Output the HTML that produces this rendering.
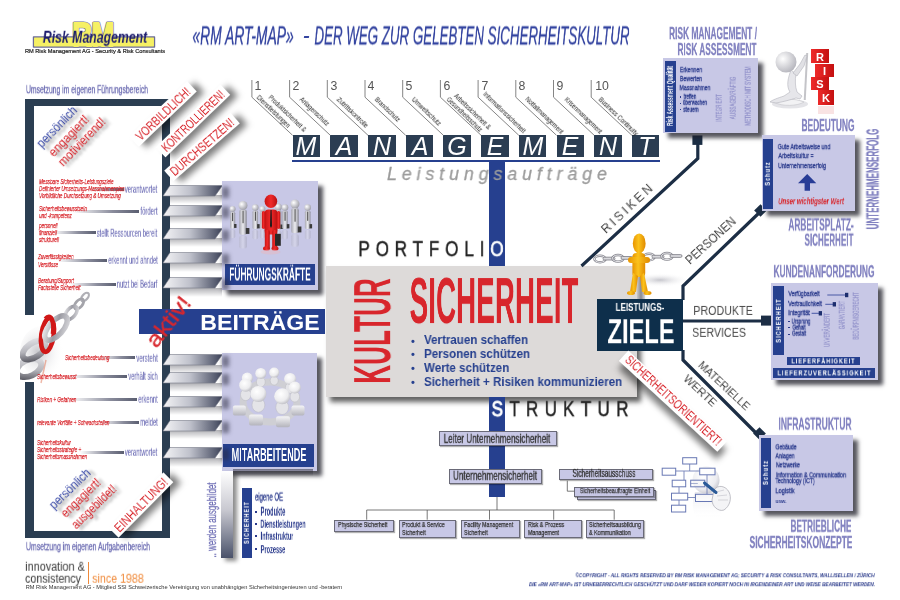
<!DOCTYPE html><html><head><meta charset="utf-8"><style>
*{margin:0;padding:0}
html,body{width:900px;height:600px;overflow:hidden;background:#fff}
body{position:relative;font-family:"Liberation Sans",sans-serif}
body>div,body>svg{position:absolute}
.t{width:0;height:0}
.t>span{position:absolute;left:0;top:0;white-space:nowrap;line-height:1;display:block;will-change:transform}
.tag{background:#fff;box-shadow:5px 6px 6px rgba(0,0,0,0.5)}
.red{font-size:7.5px;font-style:italic;color:#d8262c;transform:scaleX(0.61);transform-origin:0 0;-webkit-text-stroke:0.25px #d8262c}
.oc{font-size:7px;color:#333;transform:scaleX(0.76);transform-origin:0 0;-webkit-text-stroke:0.25px #333}
.shd{width:52px;height:9px;background:linear-gradient(180deg,rgba(80,80,90,0.45),rgba(255,255,255,0))}
</style></head><body>
<svg style="left:0;top:0" width="200" height="60">
<g stroke="#6c6c96" stroke-width="3.2" fill="#6c6c96" stroke-linejoin="round">
<rect x="33.5" y="37" width="121" height="10" stroke-width="1.4"/>
<text x="72.2" y="46.3" font-family="Liberation Sans" font-weight="bold" font-size="33" textLength="42" lengthAdjust="spacingAndGlyphs">RM</text></g>
<g stroke="#f6f064" stroke-width="1.8" fill="#f6f064" stroke-linejoin="round">
<rect x="34.2" y="37.7" width="119.6" height="8.6" stroke-width="0"/>
<text x="72.2" y="46.3" font-family="Liberation Sans" font-weight="bold" font-size="33" textLength="42" lengthAdjust="spacingAndGlyphs">RM</text></g>
<rect x="34.2" y="37.7" width="119.6" height="8.6" fill="#f6f064"/>
</svg>
<div class="t" style="left:95.2px;top:37.7px"><span style="font-size:16.57px;color:#1d1d6e;font-weight:bold;font-style:italic;letter-spacing:0px;transform:translate(-50%,-50%) scaleX(0.741);">Risk Management</span></div>
<div class="t" style="left:94.7px;top:52.2px"><span style="font-size:5.67px;color:#222;font-weight:normal;font-style:normal;letter-spacing:0px;transform:translate(-50%,-50%);-webkit-text-stroke:0.2px #222">RM Risk Management AG - Security &amp; Risk Consultants</span></div>
<div class="t" style="left:242.7px;top:36.0px"><span style="font-size:25.15px;color:#3444a0;font-weight:normal;font-style:italic;letter-spacing:0px;transform:translate(-50%,-50%) scaleX(0.552);-webkit-text-stroke:0.35px #3444a0">«RM ART-MAP»</span></div>
<div style="left:303.5px;top:36.2px;width:5px;height:1.8px;background:#3444a0;transform:skewX(-10deg)"></div>
<div class="t" style="left:471.6px;top:36.0px"><span style="font-size:25.15px;color:#3444a0;font-weight:normal;font-style:italic;letter-spacing:0px;transform:translate(-50%,-50%) scaleX(0.530);-webkit-text-stroke:0.35px #3444a0">DER WEG ZUR GELEBTEN SICHERHEITSKULTUR</span></div>
<div class="t" style="left:87.0px;top:90.0px"><span style="font-size:11.50px;color:#6c6cb2;font-weight:normal;font-style:normal;letter-spacing:0px;transform:translate(-50%,-50%) scaleX(0.589);-webkit-text-stroke:0.35px #6c6cb2">Umsetzung im eigenen Führungsbereich</span></div>
<div style="left:25px;top:99px;width:145px;height:7px;background:#2b3e52;"></div>
<div style="left:25px;top:99px;width:9px;height:216px;background:#2b3e52;"></div>
<div style="left:25px;top:382px;width:9px;height:156px;background:#2b3e52;"></div>
<div style="left:162px;top:99px;width:8px;height:439px;background:#2b3e52;"></div>
<div style="left:25px;top:531px;width:145px;height:7px;background:#2b3e52;"></div>
<div class="t" style="left:88.0px;top:547.0px"><span style="font-size:11.50px;color:#6c6cb2;font-weight:normal;font-style:normal;letter-spacing:0px;transform:translate(-50%,-50%) scaleX(0.599);-webkit-text-stroke:0.35px #6c6cb2">Umsetzung im eigenen Aufgabenbereich</span></div>
<svg style="left:20px;top:290px" width="80" height="100" viewBox="0 0 80 100">
<defs><linearGradient id="cg" x1="0" y1="1" x2="1" y2="0"><stop offset="0" stop-color="#55555e"/><stop offset="0.45" stop-color="#b4b4ba"/><stop offset="1" stop-color="#e4e4e8"/></linearGradient>
<linearGradient id="cg2" x1="0" y1="0" x2="1" y2="1"><stop offset="0" stop-color="#f0f0f2"/><stop offset="0.5" stop-color="#9a9aa2"/><stop offset="1" stop-color="#d8d8dc"/></linearGradient>
<radialGradient id="cs" cx="0.4" cy="0.5" r="0.6"><stop offset="0" stop-color="#b0b0b6" stop-opacity="0.7"/><stop offset="1" stop-color="#fff" stop-opacity="0"/></radialGradient></defs>
<ellipse cx="22" cy="62" rx="22" ry="26" fill="url(#cs)"/>
<g fill="none">
<ellipse cx="65" cy="7" rx="5" ry="2.8" transform="rotate(-50 65 7)" stroke="#b0b0b6" stroke-width="2.2"/>
<ellipse cx="59" cy="14" rx="6" ry="3.4" transform="rotate(-50 59 14)" stroke="#a4a4aa" stroke-width="2.8"/>
<ellipse cx="51" cy="23" rx="8" ry="4.5" transform="rotate(-50 51 23)" stroke="url(#cg2)" stroke-width="3.6"/>
<ellipse cx="9" cy="78" rx="13" ry="8" transform="rotate(-25 9 78)" stroke="url(#cg)" stroke-width="6"/>
<ellipse cx="14" cy="60" rx="13" ry="7" transform="rotate(-35 14 60)" stroke="url(#cg)" stroke-width="6"/>
</g>
<ellipse cx="27.5" cy="45" rx="6.2" ry="17" transform="rotate(8 27.5 45)" fill="none" stroke="#d01818" stroke-width="4.6"/>
<ellipse cx="36" cy="38" rx="15" ry="7" transform="rotate(-48 36 38)" fill="none" stroke="url(#cg2)" stroke-width="5.5"/>
<path d="M25.5 29 A6.2 17 8 0 1 33 44" fill="none" stroke="#d01818" stroke-width="4.6"/>
<path d="M26 70 L21 93" stroke="#e07050" stroke-width="1.4" opacity="0.5"/>
</svg>
<div class="t" style="left:57.0px;top:127.0px"><span style="font-size:12.00px;color:#3a4aa8;font-weight:normal;font-style:normal;letter-spacing:0px;transform:translate(-50%,-50%) rotate(-46deg) scaleX(0.950);text-shadow:3px 4px 3px rgba(0,0,0,0.45)">persönlich</span></div>
<div class="t" style="left:68.5px;top:135.5px"><span style="font-size:12.00px;color:#d8262c;font-weight:normal;font-style:normal;letter-spacing:0px;transform:translate(-50%,-50%) rotate(-46deg) scaleX(0.974);text-shadow:3px 4px 3px rgba(0,0,0,0.45)">engagiert!</span></div>
<div class="t" style="left:82.0px;top:141.5px"><span style="font-size:12.00px;color:#d8262c;font-weight:normal;font-style:normal;letter-spacing:0px;transform:translate(-50%,-50%) rotate(-46deg) scaleX(0.949);text-shadow:3px 4px 3px rgba(0,0,0,0.45)">motivierend!</span></div>
<div class="t" style="left:70.0px;top:488.7px"><span style="font-size:12.00px;color:#3a4aa8;font-weight:normal;font-style:normal;letter-spacing:0px;transform:translate(-50%,-50%) rotate(-44deg) scaleX(0.950);text-shadow:3px 4px 3px rgba(0,0,0,0.45)">persönlich</span></div>
<div class="t" style="left:80.5px;top:497.5px"><span style="font-size:12.00px;color:#d8262c;font-weight:normal;font-style:normal;letter-spacing:0px;transform:translate(-50%,-50%) rotate(-44deg) scaleX(0.936);text-shadow:3px 4px 3px rgba(0,0,0,0.45)">engagiert!</span></div>
<div class="t" style="left:94.0px;top:507.0px"><span style="font-size:12.00px;color:#d8262c;font-weight:normal;font-style:normal;letter-spacing:0px;transform:translate(-50%,-50%) rotate(-44deg) scaleX(0.880);text-shadow:3px 4px 3px rgba(0,0,0,0.45)">ausgebildet!</span></div>
<div class="t" style="left:162.7px;top:113.8px"><span class="tag" style="width:80px;height:14px;transform:translate(-50%,-50%) rotate(-43.7deg)"></span></div>
<div class="t" style="left:162.7px;top:113.8px"><span style="font-size:13.20px;color:#d8262c;font-weight:normal;font-style:normal;letter-spacing:0px;transform:translate(-50%,-50%) rotate(-43.7deg) scaleX(0.764);">VORBILDLICH!</span></div>
<div class="t" style="left:192.5px;top:120.5px"><span class="tag" style="width:90px;height:14px;transform:translate(-50%,-50%) rotate(-44deg)"></span></div>
<div class="t" style="left:192.5px;top:120.5px"><span style="font-size:13.20px;color:#d8262c;font-weight:normal;font-style:normal;letter-spacing:0px;transform:translate(-50%,-50%) rotate(-44deg) scaleX(0.712);">KONTROLLIEREN!</span></div>
<div class="t" style="left:201.5px;top:147px"><span class="tag" style="width:88px;height:14px;transform:translate(-50%,-50%) rotate(-41deg)"></span></div>
<div class="t" style="left:201.5px;top:147.0px"><span style="font-size:13.20px;color:#d8262c;font-weight:normal;font-style:normal;letter-spacing:0px;transform:translate(-50%,-50%) rotate(-41deg) scaleX(0.774);">DURCHSETZEN!</span></div>
<div class="t" style="left:140.9px;top:505.3px"><span class="tag" style="width:78px;height:14px;transform:translate(-50%,-50%) rotate(-45.4deg)"></span></div>
<div class="t" style="left:140.9px;top:505.3px"><span style="font-size:13.20px;color:#d8262c;font-weight:normal;font-style:normal;letter-spacing:0px;transform:translate(-50%,-50%) rotate(-45.4deg) scaleX(0.797);">EINHALTUNG!</span></div>
<div style="left:89px;top:187.8px;width:35px;height:3.2px;background:linear-gradient(90deg,rgba(255,255,255,0),#8a8c9c 60%,#5a5e70);"></div>
<div class="t" style="left:39px;top:177.7px"><span class="red">Messbare Sicherheits-Leistungsziele</span></div>
<div class="t" style="left:39px;top:184.7px"><span class="red">Definierter Umsetzungs-Massnahmenplan</span></div>
<div class="t" style="left:39px;top:191.7px"><span class="red">Vorbildliche Durchsetzung &amp; Umsetzung</span></div>
<div class="t" style="left:141.2px;top:189.3px"><span style="font-size:10.50px;color:#6e6eb6;font-weight:normal;font-style:normal;letter-spacing:0px;transform:translate(-50%,-50%) scaleX(0.562);-webkit-text-stroke:0.15px #6e6eb6">verantwortet</span></div>
<div style="left:73px;top:209.5px;width:66.4px;height:3.2px;background:linear-gradient(90deg,rgba(255,255,255,0),#8a8c9c 60%,#5a5e70);"></div>
<div class="t" style="left:39px;top:204.7px"><span class="red">Sicherheitsbewusstsein</span></div>
<div class="t" style="left:39px;top:212.4px"><span class="red">und -kompetenz</span></div>
<div class="t" style="left:148.9px;top:211.0px"><span style="font-size:10.50px;color:#6e6eb6;font-weight:normal;font-style:normal;letter-spacing:0px;transform:translate(-50%,-50%) scaleX(0.564);-webkit-text-stroke:0.15px #6e6eb6">fördert</span></div>
<div style="left:53px;top:231.0px;width:43px;height:3.2px;background:linear-gradient(90deg,rgba(255,255,255,0),#8a8c9c 60%,#5a5e70);"></div>
<div class="t" style="left:39px;top:222.2px"><span class="red">personell</span></div>
<div class="t" style="left:39px;top:229.0px"><span class="red">finanziell</span></div>
<div class="t" style="left:39px;top:235.8px"><span class="red">strukturell</span></div>
<div class="t" style="left:127.2px;top:232.5px"><span style="font-size:10.50px;color:#6e6eb6;font-weight:normal;font-style:normal;letter-spacing:0px;transform:translate(-50%,-50%) scaleX(0.551);-webkit-text-stroke:0.15px #6e6eb6">stellt Ressourcen bereit</span></div>
<div style="left:58px;top:258.5px;width:49px;height:3.2px;background:linear-gradient(90deg,rgba(255,255,255,0),#8a8c9c 60%,#5a5e70);"></div>
<div class="t" style="left:38px;top:253.4px"><span class="red">Zuverlässigkeiten</span></div>
<div class="t" style="left:38px;top:261.1px"><span class="red">Verstösse</span></div>
<div class="t" style="left:132.8px;top:260.0px"><span style="font-size:10.50px;color:#6e6eb6;font-weight:normal;font-style:normal;letter-spacing:0px;transform:translate(-50%,-50%) scaleX(0.547);-webkit-text-stroke:0.15px #6e6eb6">erkennt und ahndet</span></div>
<div style="left:70px;top:282.5px;width:46px;height:3.2px;background:linear-gradient(90deg,rgba(255,255,255,0),#8a8c9c 60%,#5a5e70);"></div>
<div class="t" style="left:38px;top:277.2px"><span class="red">Beratung/Support</span></div>
<div class="t" style="left:38px;top:284.0px"><span class="red">Fachstelle Sicherheit</span></div>
<div class="t" style="left:137.2px;top:284.0px"><span style="font-size:10.50px;color:#6e6eb6;font-weight:normal;font-style:normal;letter-spacing:0px;transform:translate(-50%,-50%) scaleX(0.551);-webkit-text-stroke:0.15px #6e6eb6">nutzt bei Bedarf</span></div>
<div style="left:100px;top:356.1px;width:35px;height:3.2px;background:linear-gradient(90deg,rgba(255,255,255,0),#8a8c9c 60%,#5a5e70);"></div>
<div class="t" style="left:65px;top:354.3px"><span class="red">Sicherheitsbedeutung</span></div>
<div class="t" style="left:146.8px;top:357.6px"><span style="font-size:10.50px;color:#6e6eb6;font-weight:normal;font-style:normal;letter-spacing:0px;transform:translate(-50%,-50%) scaleX(0.576);-webkit-text-stroke:0.15px #6e6eb6">versteht</span></div>
<div style="left:70px;top:374.9px;width:57px;height:3.2px;background:linear-gradient(90deg,rgba(255,255,255,0),#8a8c9c 60%,#5a5e70);"></div>
<div class="t" style="left:37px;top:373.1px"><span class="red">Sicherheitsbewusst</span></div>
<div class="t" style="left:142.8px;top:376.4px"><span style="font-size:10.50px;color:#6e6eb6;font-weight:normal;font-style:normal;letter-spacing:0px;transform:translate(-50%,-50%) scaleX(0.555);-webkit-text-stroke:0.15px #6e6eb6">verhält sich</span></div>
<div style="left:70px;top:397.5px;width:67px;height:3.2px;background:linear-gradient(90deg,rgba(255,255,255,0),#8a8c9c 60%,#5a5e70);"></div>
<div class="t" style="left:37px;top:395.7px"><span class="red">Risiken + Gefahren</span></div>
<div class="t" style="left:147.8px;top:399.0px"><span style="font-size:10.50px;color:#6e6eb6;font-weight:normal;font-style:normal;letter-spacing:0px;transform:translate(-50%,-50%) scaleX(0.557);-webkit-text-stroke:0.15px #6e6eb6">erkennt</span></div>
<div style="left:100px;top:420.9px;width:39px;height:3.2px;background:linear-gradient(90deg,rgba(255,255,255,0),#8a8c9c 60%,#5a5e70);"></div>
<div class="t" style="left:37px;top:419.1px"><span class="red">relevante Vorfälle + Schwachstellen</span></div>
<div class="t" style="left:148.8px;top:422.4px"><span style="font-size:10.50px;color:#6e6eb6;font-weight:normal;font-style:normal;letter-spacing:0px;transform:translate(-50%,-50%) scaleX(0.556);-webkit-text-stroke:0.15px #6e6eb6">meldet</span></div>
<div style="left:80px;top:450.5px;width:44px;height:3.2px;background:linear-gradient(90deg,rgba(255,255,255,0),#8a8c9c 60%,#5a5e70);"></div>
<div class="t" style="left:37px;top:438.7px"><span class="red">Sicherheitskultur</span></div>
<div class="t" style="left:37px;top:445.7px"><span class="red">Sicherheitsstrategie +</span></div>
<div class="t" style="left:37px;top:452.7px"><span class="red">Sicherheitsmassnahmen</span></div>
<div class="t" style="left:141.2px;top:452.0px"><span style="font-size:10.50px;color:#6e6eb6;font-weight:normal;font-style:normal;letter-spacing:0px;transform:translate(-50%,-50%) scaleX(0.562);-webkit-text-stroke:0.15px #6e6eb6">verantwortet</span></div>
<div class="shd" style="left:170px;top:195.0px"></div>
<svg style="left:162px;top:184.5px" width="62" height="12" viewBox="0 0 62 12"><defs><linearGradient id="sg184" x1="0" x2="1"><stop offset="0" stop-color="#f4f4f6"/><stop offset="0.45" stop-color="#c0c2cc"/><stop offset="1" stop-color="#3c4258"/></linearGradient></defs><polygon points="8,0.5 60.5,0.5 53,11 1,11" fill="url(#sg184)" stroke="#777a88" stroke-width="0.6"/></svg>
<div class="shd" style="left:170px;top:215.3px"></div>
<svg style="left:162px;top:204.8px" width="62" height="12" viewBox="0 0 62 12"><defs><linearGradient id="sg204" x1="0" x2="1"><stop offset="0" stop-color="#f4f4f6"/><stop offset="0.45" stop-color="#c0c2cc"/><stop offset="1" stop-color="#3c4258"/></linearGradient></defs><polygon points="8,0.5 60.5,0.5 53,11 1,11" fill="url(#sg204)" stroke="#777a88" stroke-width="0.6"/></svg>
<div class="shd" style="left:170px;top:238.0px"></div>
<svg style="left:162px;top:227.5px" width="62" height="12" viewBox="0 0 62 12"><defs><linearGradient id="sg227" x1="0" x2="1"><stop offset="0" stop-color="#f4f4f6"/><stop offset="0.45" stop-color="#c0c2cc"/><stop offset="1" stop-color="#3c4258"/></linearGradient></defs><polygon points="8,0.5 60.5,0.5 53,11 1,11" fill="url(#sg227)" stroke="#777a88" stroke-width="0.6"/></svg>
<div class="shd" style="left:170px;top:262.5px"></div>
<svg style="left:162px;top:252px" width="62" height="12" viewBox="0 0 62 12"><defs><linearGradient id="sg252" x1="0" x2="1"><stop offset="0" stop-color="#f4f4f6"/><stop offset="0.45" stop-color="#c0c2cc"/><stop offset="1" stop-color="#3c4258"/></linearGradient></defs><polygon points="8,0.5 60.5,0.5 53,11 1,11" fill="url(#sg252)" stroke="#777a88" stroke-width="0.6"/></svg>
<div class="shd" style="left:170px;top:287.5px"></div>
<svg style="left:162px;top:277px" width="62" height="12" viewBox="0 0 62 12"><defs><linearGradient id="sg277" x1="0" x2="1"><stop offset="0" stop-color="#f4f4f6"/><stop offset="0.45" stop-color="#c0c2cc"/><stop offset="1" stop-color="#3c4258"/></linearGradient></defs><polygon points="8,0.5 60.5,0.5 53,11 1,11" fill="url(#sg277)" stroke="#777a88" stroke-width="0.6"/></svg>
<div class="shd" style="left:170px;top:364.5px"></div>
<svg style="left:162px;top:354px" width="62" height="12" viewBox="0 0 62 12"><defs><linearGradient id="sg354" x1="0" x2="1"><stop offset="0" stop-color="#f4f4f6"/><stop offset="0.45" stop-color="#c0c2cc"/><stop offset="1" stop-color="#3c4258"/></linearGradient></defs><polygon points="8,0.5 60.5,0.5 53,11 1,11" fill="url(#sg354)" stroke="#777a88" stroke-width="0.6"/></svg>
<div class="shd" style="left:170px;top:382.5px"></div>
<svg style="left:162px;top:372px" width="62" height="12" viewBox="0 0 62 12"><defs><linearGradient id="sg372" x1="0" x2="1"><stop offset="0" stop-color="#f4f4f6"/><stop offset="0.45" stop-color="#c0c2cc"/><stop offset="1" stop-color="#3c4258"/></linearGradient></defs><polygon points="8,0.5 60.5,0.5 53,11 1,11" fill="url(#sg372)" stroke="#777a88" stroke-width="0.6"/></svg>
<div class="shd" style="left:170px;top:406.0px"></div>
<svg style="left:162px;top:395.5px" width="62" height="12" viewBox="0 0 62 12"><defs><linearGradient id="sg395" x1="0" x2="1"><stop offset="0" stop-color="#f4f4f6"/><stop offset="0.45" stop-color="#c0c2cc"/><stop offset="1" stop-color="#3c4258"/></linearGradient></defs><polygon points="8,0.5 60.5,0.5 53,11 1,11" fill="url(#sg395)" stroke="#777a88" stroke-width="0.6"/></svg>
<div class="shd" style="left:170px;top:430.0px"></div>
<svg style="left:162px;top:419.5px" width="62" height="12" viewBox="0 0 62 12"><defs><linearGradient id="sg419" x1="0" x2="1"><stop offset="0" stop-color="#f4f4f6"/><stop offset="0.45" stop-color="#c0c2cc"/><stop offset="1" stop-color="#3c4258"/></linearGradient></defs><polygon points="8,0.5 60.5,0.5 53,11 1,11" fill="url(#sg419)" stroke="#777a88" stroke-width="0.6"/></svg>
<div class="shd" style="left:170px;top:457.5px"></div>
<svg style="left:162px;top:447px" width="62" height="12" viewBox="0 0 62 12"><defs><linearGradient id="sg447" x1="0" x2="1"><stop offset="0" stop-color="#f4f4f6"/><stop offset="0.45" stop-color="#c0c2cc"/><stop offset="1" stop-color="#3c4258"/></linearGradient></defs><polygon points="8,0.5 60.5,0.5 53,11 1,11" fill="url(#sg447)" stroke="#777a88" stroke-width="0.6"/></svg>
<div style="left:221.6px;top:180.8px;width:96.8px;height:109.4px;background:#c8c8e6;box-shadow:5px 5px 4px rgba(30,30,40,0.75)"></div>
<div style="left:225px;top:263.8px;width:90px;height:21.6px;background:#26408f;"></div>
<div class="t" style="left:269.9px;top:275.4px"><span style="font-size:18.90px;color:#fff;font-weight:bold;font-style:normal;letter-spacing:0px;transform:translate(-50%,-50%) scaleX(0.444);">FÜHRUNGSKRÄFTE</span></div>
<div style="left:221.7px;top:353.3px;width:95.3px;height:117.7px;background:#c8c8e6;box-shadow:5px 5px 4px rgba(30,30,40,0.75)"></div>
<div style="left:223.1px;top:444.2px;width:90.8px;height:22.5px;background:#26408f;"></div>
<div class="t" style="left:268.6px;top:454.9px"><span style="font-size:18.02px;color:#fff;font-weight:bold;font-style:normal;letter-spacing:0px;transform:translate(-50%,-50%) scaleX(0.511);">MITARBEITENDE</span></div>
<div style="left:222px;top:186.5px;width:7px;height:11px;background:rgba(40,40,60,0.55);filter:blur(2px)"></div>
<div style="left:222px;top:206.8px;width:7px;height:11px;background:rgba(40,40,60,0.55);filter:blur(2px)"></div>
<div style="left:222px;top:229.5px;width:7px;height:11px;background:rgba(40,40,60,0.55);filter:blur(2px)"></div>
<div style="left:222px;top:254px;width:7px;height:11px;background:rgba(40,40,60,0.55);filter:blur(2px)"></div>
<div style="left:222px;top:279px;width:7px;height:11px;background:rgba(40,40,60,0.55);filter:blur(2px)"></div>
<div style="left:222px;top:356px;width:7px;height:11px;background:rgba(40,40,60,0.55);filter:blur(2px)"></div>
<div style="left:222px;top:374px;width:7px;height:11px;background:rgba(40,40,60,0.55);filter:blur(2px)"></div>
<div style="left:222px;top:397.5px;width:7px;height:11px;background:rgba(40,40,60,0.55);filter:blur(2px)"></div>
<div style="left:222px;top:421.5px;width:7px;height:11px;background:rgba(40,40,60,0.55);filter:blur(2px)"></div>
<div style="left:222px;top:449px;width:7px;height:11px;background:rgba(40,40,60,0.55);filter:blur(2px)"></div>
<svg style="left:222px;top:180px" width="97" height="84" viewBox="0 0 97 84">
<defs><radialGradient id="hg" cx="0.35" cy="0.35" r="0.7"><stop offset="0" stop-color="#fff"/><stop offset="1" stop-color="#9c9ca6"/></radialGradient>
<linearGradient id="bg1" x1="0" x2="1"><stop offset="0" stop-color="#a8a8b2"/><stop offset="0.5" stop-color="#ececf0"/><stop offset="1" stop-color="#8c8c98"/></linearGradient>
<linearGradient id="rg" x1="0" x2="1"><stop offset="0" stop-color="#c81414"/><stop offset="0.5" stop-color="#f02a2a"/><stop offset="1" stop-color="#b81010"/></linearGradient></defs>
<rect x="8.1" y="31.7" width="5.1" height="16.8" rx="1.5" fill="url(#bg1)"/>
<rect x="8.1" y="49.5" width="5.1" height="8.4" rx="1.5" fill="url(#bg1)" opacity="0.35"/>
<rect x="10.2" y="32.7" width="0.9" height="8.4" fill="#333"/>
<rect x="12.1" y="44.0" width="2.4" height="3.9" fill="#3a3a3a"/>
<circle cx="10.6" cy="29" r="3" fill="url(#hg)"/>
<rect x="17.2" y="29.6" width="7.6" height="25.2" rx="2.2" fill="url(#bg1)"/>
<rect x="17.2" y="55.8" width="7.6" height="12.6" rx="2.2" fill="url(#bg1)" opacity="0.35"/>
<rect x="20.6" y="30.6" width="0.9" height="12.6" fill="#333"/>
<rect x="23.8" y="48.0" width="3.6" height="5.9" fill="#3a3a3a"/>
<circle cx="21" cy="25.5" r="4.5" fill="url(#hg)"/>
<rect x="30.5" y="30.6" width="5.6" height="18.5" rx="1.6" fill="url(#bg1)"/>
<rect x="30.5" y="50.0" width="5.6" height="9.2" rx="1.6" fill="url(#bg1)" opacity="0.35"/>
<rect x="32.9" y="31.6" width="0.9" height="9.2" fill="#333"/>
<rect x="35.1" y="44.1" width="2.6" height="4.3" fill="#3a3a3a"/>
<circle cx="33.3" cy="27.6" r="3.3" fill="url(#hg)"/>
<rect x="37.9" y="31.7" width="5.1" height="16.8" rx="1.5" fill="url(#bg1)"/>
<rect x="37.9" y="49.5" width="5.1" height="8.4" rx="1.5" fill="url(#bg1)" opacity="0.35"/>
<rect x="40.0" y="32.7" width="0.9" height="8.4" fill="#333"/>
<rect x="41.9" y="44.0" width="2.4" height="3.9" fill="#3a3a3a"/>
<circle cx="40.4" cy="29" r="3" fill="url(#hg)"/>
<rect x="53.4" y="30.1" width="6.0" height="19.6" rx="1.8" fill="url(#bg1)"/>
<rect x="53.4" y="50.8" width="6.0" height="9.8" rx="1.8" fill="url(#bg1)" opacity="0.35"/>
<rect x="56.0" y="31.1" width="0.9" height="9.8" fill="#333"/>
<rect x="58.4" y="44.5" width="2.8" height="4.5" fill="#3a3a3a"/>
<circle cx="56.4" cy="27" r="3.5" fill="url(#hg)"/>
<rect x="60.2" y="30.6" width="5.6" height="18.5" rx="1.6" fill="url(#bg1)"/>
<rect x="60.2" y="50.0" width="5.6" height="9.2" rx="1.6" fill="url(#bg1)" opacity="0.35"/>
<rect x="62.6" y="31.6" width="0.9" height="9.2" fill="#333"/>
<rect x="64.8" y="44.1" width="2.6" height="4.3" fill="#3a3a3a"/>
<circle cx="63" cy="27.6" r="3.3" fill="url(#hg)"/>
<rect x="69.2" y="28.1" width="7.6" height="25.2" rx="2.2" fill="url(#bg1)"/>
<rect x="69.2" y="54.2" width="7.6" height="12.6" rx="2.2" fill="url(#bg1)" opacity="0.35"/>
<rect x="72.6" y="29.1" width="0.9" height="12.6" fill="#333"/>
<rect x="75.8" y="46.5" width="3.6" height="5.9" fill="#3a3a3a"/>
<circle cx="73" cy="24" r="4.5" fill="url(#hg)"/>
<rect x="82.9" y="30.6" width="5.6" height="18.5" rx="1.6" fill="url(#bg1)"/>
<rect x="82.9" y="50.0" width="5.6" height="9.2" rx="1.6" fill="url(#bg1)" opacity="0.35"/>
<rect x="85.3" y="31.6" width="0.9" height="9.2" fill="#333"/>
<rect x="87.5" y="44.1" width="2.6" height="4.3" fill="#3a3a3a"/>
<circle cx="85.7" cy="27.6" r="3.3" fill="url(#hg)"/>
<g fill="url(#rg)"><ellipse cx="48.9" cy="21.2" rx="6.3" ry="6.8"/><rect x="42.5" y="29.5" width="13" height="25" rx="4"/>
<rect x="42.8" y="50" width="5" height="19" rx="2"/><rect x="50.2" y="50" width="5" height="19" rx="2"/>
<ellipse cx="44.5" cy="68.5" rx="3.5" ry="2.2"/><ellipse cx="53" cy="68.5" rx="3.5" ry="2.2"/>
<rect x="39.8" y="31" width="3.5" height="18" rx="1.7"/><rect x="54.8" y="31" width="3.5" height="18" rx="1.7"/></g>
<path d="M48.5 30 L49.6 30 L50 46 L49 48 L48 46 Z" fill="#1a1a1a"/>
<rect x="53" y="53.8" width="5.8" height="12" fill="#2a2a2a"/>
<ellipse cx="48.5" cy="72" rx="10" ry="2.5" fill="#e8b8c0" opacity="0.5"/>
</svg>
<svg style="left:222px;top:352px" width="95" height="92" viewBox="0 0 95 92">
<defs><radialGradient id="hg2" cx="0.4" cy="0.35" r="0.75"><stop offset="0" stop-color="#fff"/><stop offset="0.6" stop-color="#ececee"/><stop offset="1" stop-color="#b0b0b8"/></radialGradient>
<linearGradient id="sb" x1="0" y1="0" x2="0" y2="1"><stop offset="0" stop-color="#f4f4f6"/><stop offset="1" stop-color="#b4b4bc"/></linearGradient></defs>
<ellipse cx="48" cy="50" rx="27" ry="20" fill="none" stroke="#cfcfd4" stroke-width="7"/>
<rect x="10.9" y="53.6" width="13" height="10" rx="2" fill="url(#sb)"/>
<rect x="27.0" y="62.5" width="14" height="11" rx="2" fill="url(#sb)"/>
<rect x="54.0" y="64.2" width="14" height="11" rx="2" fill="url(#sb)"/>
<rect x="69.5" y="53.6" width="13" height="10" rx="2" fill="url(#sb)"/>
<ellipse cx="38.8" cy="29.9" rx="4.4" ry="5.0" fill="#e4e4e8" stroke="#b8b8c0" stroke-width="0.5"/>
<ellipse cx="52.2" cy="28.6" rx="4.0" ry="4.5" fill="#e4e4e8" stroke="#b8b8c0" stroke-width="0.5"/>
<ellipse cx="25.3" cy="34.6" rx="4.4" ry="5.0" fill="#e4e4e8" stroke="#b8b8c0" stroke-width="0.5"/>
<ellipse cx="68.1" cy="35.9" rx="4.8" ry="5.4" fill="#e4e4e8" stroke="#b8b8c0" stroke-width="0.5"/>
<ellipse cx="23.7" cy="42.7" rx="5.2" ry="5.9" fill="#e4e4e8" stroke="#b8b8c0" stroke-width="0.5"/>
<ellipse cx="72.8" cy="44.6" rx="4.8" ry="5.4" fill="#e4e4e8" stroke="#b8b8c0" stroke-width="0.5"/>
<ellipse cx="36.4" cy="53" rx="6.4" ry="7.2" fill="#e4e4e8" stroke="#b8b8c0" stroke-width="0.5"/>
<ellipse cx="60.2" cy="55.3" rx="6.4" ry="7.2" fill="#e4e4e8" stroke="#b8b8c0" stroke-width="0.5"/>
<circle cx="38.8" cy="21.4" r="5.5" fill="url(#hg2)"/>
<circle cx="52.2" cy="20.6" r="5" fill="url(#hg2)"/>
<circle cx="25.3" cy="26.1" r="5.5" fill="url(#hg2)"/>
<circle cx="68.1" cy="26.9" r="6" fill="url(#hg2)"/>
<circle cx="23.7" cy="33.2" r="6.5" fill="url(#hg2)"/>
<circle cx="72.8" cy="35.6" r="6" fill="url(#hg2)"/>
<circle cx="36.4" cy="42" r="8" fill="url(#hg2)"/>
<circle cx="60.2" cy="44.3" r="8" fill="url(#hg2)"/>
</svg>
<div style="left:138.5px;top:309px;width:186px;height:25.2px;background:#26408f;"></div>
<div class="t" style="left:260.2px;top:323.7px"><span style="font-size:21.51px;color:#fff;font-weight:bold;font-style:normal;letter-spacing:0px;transform:translate(-50%,-50%) scaleX(1.074);">BEITRÄGE</span></div>
<div class="t" style="left:169.0px;top:322.0px"><span style="font-size:22.50px;color:#d8262c;font-weight:normal;font-style:normal;letter-spacing:0px;transform:translate(-50%,-50%) rotate(-52deg) scaleX(1.104);-webkit-text-stroke:0.3px #d8262c">aktiv!</span></div>
<div style="left:221px;top:471px;width:12px;height:87px;background:linear-gradient(180deg,#ffffff 0%,#c8c8d0 45%,#4a526a 100%);box-shadow:4px 3px 4px rgba(0,0,0,0.45)"></div>
<div style="left:233px;top:469px;width:80px;height:7px;background:linear-gradient(180deg,rgba(40,40,50,0.55),rgba(255,255,255,0))"></div>
<div class="t" style="left:211.5px;top:519.5px"><span style="font-size:12.00px;color:#7474b8;font-weight:normal;font-style:normal;letter-spacing:0px;transform:translate(-50%,-50%) rotate(-90deg) scaleX(0.658);-webkit-text-stroke:0.3px #7474b8">.. werden ausgebildet</span></div>
<div style="left:241.7px;top:488px;width:9.9px;height:70px;background:#26408f;"></div>
<div class="t" style="left:246.7px;top:523.0px"><span style="font-size:6.30px;color:#fff;font-weight:bold;font-style:normal;letter-spacing:1.2px;transform:translate(-50%,-50%) rotate(-90deg) scaleX(0.858);">SICHERHEI<span style="letter-spacing:0">T</span></span></div>
<div class="t" style="left:269.3px;top:497.0px"><span style="font-size:10.76px;color:#2a3a8c;font-weight:normal;font-style:normal;letter-spacing:0px;transform:translate(-50%,-50%) scaleX(0.551);-webkit-text-stroke:0.35px #2a3a8c">eigene OE</span></div>
<div style="left:255.2px;top:510.65px;width:1.8px;height:2px;background:#2a3a8c;"></div>
<div class="t" style="left:273.0px;top:511.6px"><span style="font-size:12.65px;color:#2a3a8c;font-weight:bold;font-style:normal;letter-spacing:0px;transform:translate(-50%,-50%) scaleX(0.449);">Produkte</span></div>
<div style="left:255.2px;top:522.65px;width:1.8px;height:2px;background:#2a3a8c;"></div>
<div class="t" style="left:283.4px;top:523.6px"><span style="font-size:10.61px;color:#2a3a8c;font-weight:bold;font-style:normal;letter-spacing:0px;transform:translate(-50%,-50%) scaleX(0.530);">Dienstleistungen</span></div>
<div style="left:255.2px;top:534.65px;width:1.8px;height:2px;background:#2a3a8c;"></div>
<div class="t" style="left:277.0px;top:535.6px"><span style="font-size:10.61px;color:#2a3a8c;font-weight:bold;font-style:normal;letter-spacing:0px;transform:translate(-50%,-50%) scaleX(0.517);">Infrastruktur</span></div>
<div style="left:255.2px;top:547.7px;width:1.8px;height:2px;background:#2a3a8c;"></div>
<div class="t" style="left:273.0px;top:548.7px"><span style="font-size:11.63px;color:#2a3a8c;font-weight:bold;font-style:normal;letter-spacing:0px;transform:translate(-50%,-50%) scaleX(0.482);">Prozesse</span></div>
<div class="t" style="left:54.8px;top:567.0px"><span style="font-size:12.50px;color:#3a3a3a;font-weight:normal;font-style:normal;letter-spacing:0px;transform:translate(-50%,-50%) scaleX(0.865);">innovation &amp;</span></div>
<div class="t" style="left:53.0px;top:578.6px"><span style="font-size:12.50px;color:#3a3a3a;font-weight:normal;font-style:normal;letter-spacing:0px;transform:translate(-50%,-50%) scaleX(0.857);">consistency</span></div>
<div style="left:88.3px;top:561.7px;width:1.2px;height:22.5px;background:#f08a3a;"></div>
<div class="t" style="left:117.8px;top:578.6px"><span style="font-size:12.50px;color:#f08a3a;font-weight:normal;font-style:normal;letter-spacing:0px;transform:translate(-50%,-50%) scaleX(0.854);">since 1988</span></div>
<div class="t" style="left:183.5px;top:588.3px"><span style="font-size:5.60px;color:#333;font-weight:normal;font-style:normal;letter-spacing:0px;transform:translate(-50%,-50%) scaleX(1.014);">RM Risk Management AG - Mitglied SSI Schweizerische Vereinigung von unabhängigen Sicherheitsingenieuren und -beratern</span></div>
<div style="left:292.6px;top:135.3px;width:27.5px;height:21.5px;background:#2b3d52;"></div>
<div class="t" style="left:306.4px;top:146.1px"><span style="font-size:25.00px;color:#fff;font-weight:normal;font-style:italic;letter-spacing:0px;transform:translate(-50%,-50%);">M</span></div>
<div class="t" style="left:258.3px;top:86.3px"><span style="font-size:12.30px;color:#555;font-weight:normal;font-style:normal;letter-spacing:0px;transform:translate(-50%,-50%);">1</span></div>
<div class="t" style="left:286.9px;top:114.0px"><span style="font-size:6.80px;color:#222;font-weight:normal;font-style:normal;letter-spacing:0px;transform:translate(-50%,-50%) rotate(44deg) scaleX(0.836);">Produktsicherheit &amp;</span></div>
<div class="t" style="left:272.9px;top:112.0px"><span style="font-size:6.80px;color:#222;font-weight:normal;font-style:normal;letter-spacing:0px;transform:translate(-50%,-50%) rotate(44deg) scaleX(0.867);">Dienstleistungen</span></div>
<div style="left:330.3px;top:135.3px;width:27.5px;height:21.5px;background:#2b3d52;"></div>
<div class="t" style="left:344.1px;top:146.1px"><span style="font-size:25.00px;color:#fff;font-weight:normal;font-style:italic;letter-spacing:0px;transform:translate(-50%,-50%);">A</span></div>
<div class="t" style="left:296.0px;top:86.3px"><span style="font-size:12.30px;color:#555;font-weight:normal;font-style:normal;letter-spacing:0px;transform:translate(-50%,-50%);">2</span></div>
<div class="t" style="left:314.2px;top:112.4px"><span style="font-size:6.80px;color:#222;font-weight:normal;font-style:normal;letter-spacing:0px;transform:translate(-50%,-50%) rotate(44deg) scaleX(0.850);">Anlagenschutz</span></div>
<div style="left:368.0px;top:135.3px;width:27.5px;height:21.5px;background:#2b3d52;"></div>
<div class="t" style="left:381.8px;top:146.1px"><span style="font-size:25.00px;color:#fff;font-weight:normal;font-style:italic;letter-spacing:0px;transform:translate(-50%,-50%);">N</span></div>
<div class="t" style="left:333.7px;top:86.3px"><span style="font-size:12.30px;color:#555;font-weight:normal;font-style:normal;letter-spacing:0px;transform:translate(-50%,-50%);">3</span></div>
<div class="t" style="left:351.8px;top:112.7px"><span style="font-size:6.80px;color:#222;font-weight:normal;font-style:normal;letter-spacing:0px;transform:translate(-50%,-50%) rotate(44deg) scaleX(0.876);">Zutrittskontrolle</span></div>
<div style="left:405.7px;top:135.3px;width:27.5px;height:21.5px;background:#2b3d52;"></div>
<div class="t" style="left:419.5px;top:146.1px"><span style="font-size:25.00px;color:#fff;font-weight:normal;font-style:italic;letter-spacing:0px;transform:translate(-50%,-50%);">A</span></div>
<div class="t" style="left:371.4px;top:86.3px"><span style="font-size:12.30px;color:#555;font-weight:normal;font-style:normal;letter-spacing:0px;transform:translate(-50%,-50%);">4</span></div>
<div class="t" style="left:387.2px;top:110.3px"><span style="font-size:6.80px;color:#222;font-weight:normal;font-style:normal;letter-spacing:0px;transform:translate(-50%,-50%) rotate(44deg) scaleX(0.846);">Brandschutz</span></div>
<div style="left:443.4px;top:135.3px;width:27.5px;height:21.5px;background:#2b3d52;"></div>
<div class="t" style="left:457.2px;top:146.1px"><span style="font-size:25.00px;color:#fff;font-weight:normal;font-style:italic;letter-spacing:0px;transform:translate(-50%,-50%);">G</span></div>
<div class="t" style="left:409.1px;top:86.3px"><span style="font-size:12.30px;color:#555;font-weight:normal;font-style:normal;letter-spacing:0px;transform:translate(-50%,-50%);">5</span></div>
<div class="t" style="left:426.4px;top:111.5px"><span style="font-size:6.80px;color:#222;font-weight:normal;font-style:normal;letter-spacing:0px;transform:translate(-50%,-50%) rotate(44deg) scaleX(0.886);">Umweltschutz</span></div>
<div style="left:481.1px;top:135.3px;width:27.5px;height:21.5px;background:#2b3d52;"></div>
<div class="t" style="left:494.9px;top:146.1px"><span style="font-size:25.00px;color:#fff;font-weight:normal;font-style:italic;letter-spacing:0px;transform:translate(-50%,-50%);">E</span></div>
<div class="t" style="left:446.8px;top:86.3px"><span style="font-size:12.30px;color:#555;font-weight:normal;font-style:normal;letter-spacing:0px;transform:translate(-50%,-50%);">6</span></div>
<div class="t" style="left:471.8px;top:112.4px"><span style="font-size:6.80px;color:#222;font-weight:normal;font-style:normal;letter-spacing:0px;transform:translate(-50%,-50%) rotate(44deg) scaleX(0.847);">Arbeitssicherheit &amp;</span></div>
<div class="t" style="left:464.4px;top:115.0px"><span style="font-size:6.80px;color:#222;font-weight:normal;font-style:normal;letter-spacing:0px;transform:translate(-50%,-50%) rotate(44deg) scaleX(0.804);">Gesundheitsschutz</span></div>
<div style="left:518.8px;top:135.3px;width:27.5px;height:21.5px;background:#2b3d52;"></div>
<div class="t" style="left:532.6px;top:146.1px"><span style="font-size:25.00px;color:#fff;font-weight:normal;font-style:italic;letter-spacing:0px;transform:translate(-50%,-50%);">M</span></div>
<div class="t" style="left:484.5px;top:86.3px"><span style="font-size:12.30px;color:#555;font-weight:normal;font-style:normal;letter-spacing:0px;transform:translate(-50%,-50%);">7</span></div>
<div class="t" style="left:504.1px;top:113.1px"><span style="font-size:6.80px;color:#222;font-weight:normal;font-style:normal;letter-spacing:0px;transform:translate(-50%,-50%) rotate(44deg) scaleX(0.842);">Informationssicherheit</span></div>
<div style="left:556.5px;top:135.3px;width:27.5px;height:21.5px;background:#2b3d52;"></div>
<div class="t" style="left:570.2px;top:146.1px"><span style="font-size:25.00px;color:#fff;font-weight:normal;font-style:italic;letter-spacing:0px;transform:translate(-50%,-50%);">E</span></div>
<div class="t" style="left:522.2px;top:86.3px"><span style="font-size:12.30px;color:#555;font-weight:normal;font-style:normal;letter-spacing:0px;transform:translate(-50%,-50%);">8</span></div>
<div class="t" style="left:544.4px;top:116.2px"><span style="font-size:6.80px;color:#222;font-weight:normal;font-style:normal;letter-spacing:0px;transform:translate(-50%,-50%) rotate(44deg) scaleX(0.848);">Notfallmanagement</span></div>
<div style="left:594.2px;top:135.3px;width:27.5px;height:21.5px;background:#2b3d52;"></div>
<div class="t" style="left:608.0px;top:146.1px"><span style="font-size:25.00px;color:#fff;font-weight:normal;font-style:italic;letter-spacing:0px;transform:translate(-50%,-50%);">N</span></div>
<div class="t" style="left:559.9px;top:86.3px"><span style="font-size:12.30px;color:#555;font-weight:normal;font-style:normal;letter-spacing:0px;transform:translate(-50%,-50%);">9</span></div>
<div class="t" style="left:582.5px;top:115.5px"><span style="font-size:6.80px;color:#222;font-weight:normal;font-style:normal;letter-spacing:0px;transform:translate(-50%,-50%) rotate(44deg) scaleX(0.831);">Krisenmanagement</span></div>
<div style="left:631.9px;top:135.3px;width:27.5px;height:21.5px;background:#2b3d52;"></div>
<div class="t" style="left:645.7px;top:146.1px"><span style="font-size:25.00px;color:#fff;font-weight:normal;font-style:italic;letter-spacing:0px;transform:translate(-50%,-50%);">T</span></div>
<div class="t" style="left:601.5px;top:86.3px"><span style="font-size:12.30px;color:#555;font-weight:normal;font-style:normal;letter-spacing:0px;transform:translate(-50%,-50%);">10</span></div>
<div class="t" style="left:618.2px;top:116.6px"><span style="font-size:6.80px;color:#222;font-weight:normal;font-style:normal;letter-spacing:0px;transform:translate(-50%,-50%) rotate(44deg) scaleX(0.868);">Business Continuity</span></div>
<svg style="left:0;top:0" width="900" height="600"><path d="M251.9 80 L251.9 97.2 L292.6 135.3 M289.6 80 L289.6 97.2 L330.3 135.3 M327.3 80 L327.3 97.2 L368.0 135.3 M365.0 80 L365.0 97.2 L405.7 135.3 M402.7 80 L402.7 97.2 L443.4 135.3 M440.4 80 L440.4 97.2 L481.1 135.3 M478.1 80 L478.1 97.2 L518.8 135.3 M515.8 80 L515.8 97.2 L556.5 135.3 M553.5 80 L553.5 97.2 L594.2 135.3 M591.2 80 L591.2 97.2 L631.9 135.3" fill="none" stroke="#777" stroke-width="0.9"/></svg>
<div style="left:292px;top:160.3px;width:368px;height:2.2px;background:#26408f;"></div>
<div style="left:489.2px;top:162px;width:15.8px;height:104px;background:#26408f;"></div>
<div class="t" style="left:496.7px;top:174.0px"><span style="font-size:18.00px;color:#9c9c9c;font-weight:normal;font-style:italic;letter-spacing:5px;transform:translate(-50%,-50%) scaleX(0.986);-webkit-text-stroke:0.3px #9c9c9c">Leistungsaufträg<span style="letter-spacing:0">e</span></span></div>
<div class="t" style="left:431.1px;top:249.2px"><span style="font-size:21.70px;color:#222;font-weight:normal;font-style:normal;letter-spacing:7.5px;transform:translate(-50%,-50%) scaleX(0.785);-webkit-text-stroke:0.45px #222">PORTFOLI<span style="color:#fff;letter-spacing:0;-webkit-text-stroke:0.6px #fff">O</span></span></div>
<div style="left:325.6px;top:265.6px;width:311.4px;height:131.4px;background:#dddad9;box-shadow:4px 5px 5px rgba(30,30,30,0.7)"></div>
<div class="t" style="left:372.5px;top:331.0px"><span style="font-size:51.70px;color:#d8262c;font-weight:bold;font-style:normal;letter-spacing:0px;transform:translate(-50%,-50%) rotate(-90deg) scaleX(0.506);">KULTUR</span></div>
<div class="t" style="left:493.5px;top:302.0px"><span style="font-size:63.95px;color:#d8262c;font-weight:bold;font-style:normal;letter-spacing:0px;transform:translate(-50%,-50%) scaleX(0.436);">SICHERHEIT</span></div>
<div class="t" style="left:412.8px;top:340.5px"><span style="font-size:11.00px;color:#26408f;font-weight:bold;font-style:normal;letter-spacing:0px;transform:translate(-50%,-50%);">•</span></div>
<div class="t" style="left:424px;top:334.1px"><span style="font-size:12.3px;font-weight:bold;color:#26408f;transform:scaleX(0.94);transform-origin:0 0">Vertrauen schaffen</span></div>
<div class="t" style="left:412.8px;top:354.4px"><span style="font-size:11.00px;color:#26408f;font-weight:bold;font-style:normal;letter-spacing:0px;transform:translate(-50%,-50%);">•</span></div>
<div class="t" style="left:424px;top:348.1px"><span style="font-size:12.3px;font-weight:bold;color:#26408f;transform:scaleX(0.94);transform-origin:0 0">Personen schützen</span></div>
<div class="t" style="left:412.8px;top:368.4px"><span style="font-size:11.00px;color:#26408f;font-weight:bold;font-style:normal;letter-spacing:0px;transform:translate(-50%,-50%);">•</span></div>
<div class="t" style="left:424px;top:362.0px"><span style="font-size:12.3px;font-weight:bold;color:#26408f;transform:scaleX(0.94);transform-origin:0 0">Werte schützen</span></div>
<div class="t" style="left:412.8px;top:382.4px"><span style="font-size:11.00px;color:#26408f;font-weight:bold;font-style:normal;letter-spacing:0px;transform:translate(-50%,-50%);">•</span></div>
<div class="t" style="left:424px;top:376.0px"><span style="font-size:12.3px;font-weight:bold;color:#26408f;transform:scaleX(0.94);transform-origin:0 0">Sicherheit + Risiken kommunizieren</span></div>
<div style="left:489.2px;top:397px;width:15.7px;height:100px;background:#26408f;"></div>
<div class="t" style="left:560.0px;top:409.2px"><span style="font-size:21.70px;color:#222;font-weight:normal;font-style:normal;letter-spacing:8px;transform:translate(-50%,-50%) scaleX(0.786);-webkit-text-stroke:0.45px #222"><span style="color:#fff;-webkit-text-stroke:0.9px #fff">S</span>TRUKTU<span style="letter-spacing:0">R</span></span></div>
<div style="left:439.3px;top:431px;width:117.3px;height:15.4px;background:#c8c8e6;border:1px solid #6a6a78;box-sizing:border-box;box-shadow:1px 1px 1px rgba(0,0,0,0.3)"></div>
<div class="t" style="left:497.3px;top:438.6px"><span style="font-size:12.35px;color:#333;font-weight:normal;font-style:normal;letter-spacing:0px;transform:translate(-50%,-50%) scaleX(0.658);-webkit-text-stroke:0.35px #333">Leiter Unternehmensicherheit</span></div>
<div style="left:449px;top:468.8px;width:93px;height:15.4px;background:#c8c8e6;border:1px solid #6a6a78;box-sizing:border-box;box-shadow:1px 1px 1px rgba(0,0,0,0.3)"></div>
<div class="t" style="left:495.2px;top:475.8px"><span style="font-size:12.35px;color:#333;font-weight:normal;font-style:normal;letter-spacing:0px;transform:translate(-50%,-50%) scaleX(0.658);-webkit-text-stroke:0.35px #333">Unternehmensicherheit</span></div>
<div style="left:559px;top:468.8px;width:94.4px;height:11.7px;background:#c8c8e6;border:1px solid #6a6a78;box-sizing:border-box;box-shadow:1px 1px 1px rgba(0,0,0,0.3)"></div>
<div class="t" style="left:604.0px;top:474.3px"><span style="font-size:10.17px;color:#333;font-weight:normal;font-style:normal;letter-spacing:0px;transform:translate(-50%,-50%) scaleX(0.640);-webkit-text-stroke:0.3px #333">Sicherheitsausschuss</span></div>
<div style="left:577.2px;top:489.5px;width:79.3px;height:10.5px;background:#c8c8e6;border:1px solid #6a6a78;box-sizing:border-box;box-shadow:1px 1px 1px rgba(0,0,0,0.3)"></div>
<div style="left:574.3px;top:486.5px;width:79.7px;height:10px;background:#c8c8e6;border:1px solid #6a6a78;box-sizing:border-box;box-shadow:1px 1px 1px rgba(0,0,0,0.3)"></div>
<div class="t" style="left:614.9px;top:491.0px"><span style="font-size:7.85px;color:#333;font-weight:normal;font-style:normal;letter-spacing:0px;transform:translate(-50%,-50%) scaleX(0.672);-webkit-text-stroke:0.25px #333">Sicherheitsbeauftragte Einheit</span></div>
<svg style="left:0;top:0" width="900" height="600"><path d="M497 497 V510 M366.7 510 H614.2 M366.7 510 V519.7 M427.2 510 V519.7 M489.5 510 V519.7 M553.7 510 V519.7 M614.2 510 V519.7 M567.3 480.7 V491.2 H574.3" fill="none" stroke="#555" stroke-width="0.8"/></svg>
<div style="left:334.4px;top:519.7px;width:59.80000000000001px;height:12.099999999999909px;background:#c8c8e6;border:1px solid #6a6a78;box-sizing:border-box;box-shadow:1px 1px 1px rgba(0,0,0,0.3)"></div>
<div class="t" style="left:337.59999999999997px;top:521.2px"><span class="oc">Physische Sicherheit</span></div>
<div style="left:398.6px;top:519.7px;width:57.89999999999998px;height:18.299999999999955px;background:#c8c8e6;border:1px solid #6a6a78;box-sizing:border-box;box-shadow:1px 1px 1px rgba(0,0,0,0.3)"></div>
<div class="t" style="left:401.8px;top:521.2px"><span class="oc">Produkt &amp; Service</span></div>
<div class="t" style="left:401.8px;top:528.9000000000001px"><span class="oc"> Sicherheit</span></div>
<div style="left:461px;top:519.7px;width:58.60000000000002px;height:18.299999999999955px;background:#c8c8e6;border:1px solid #6a6a78;box-sizing:border-box;box-shadow:1px 1px 1px rgba(0,0,0,0.3)"></div>
<div class="t" style="left:464.2px;top:521.2px"><span class="oc">Facility Management</span></div>
<div class="t" style="left:464.2px;top:528.9000000000001px"><span class="oc"> Sicherheit</span></div>
<div style="left:524.4px;top:519.7px;width:57.89999999999998px;height:18.299999999999955px;background:#c8c8e6;border:1px solid #6a6a78;box-sizing:border-box;box-shadow:1px 1px 1px rgba(0,0,0,0.3)"></div>
<div class="t" style="left:527.6px;top:521.2px"><span class="oc">Risk &amp; Prozess</span></div>
<div class="t" style="left:527.6px;top:528.9000000000001px"><span class="oc">Management</span></div>
<div style="left:586px;top:519.7px;width:58.299999999999955px;height:18.299999999999955px;background:#c8c8e6;border:1px solid #6a6a78;box-sizing:border-box;box-shadow:1px 1px 1px rgba(0,0,0,0.3)"></div>
<div class="t" style="left:589.2px;top:521.2px"><span class="oc">Sicherheitsausbildung</span></div>
<div class="t" style="left:589.2px;top:528.9000000000001px"><span class="oc">&amp; Kommunikation</span></div>
<svg style="left:640px;top:440px" width="100" height="80" viewBox="0 0 100 80">
<defs><radialGradient id="hs" cx="0.4" cy="0.35" r="0.7"><stop offset="0" stop-color="#fff"/><stop offset="0.7" stop-color="#ececf0"/><stop offset="1" stop-color="#c4c4cc"/></radialGradient>
<linearGradient id="hb" x1="0" y1="0" x2="0" y2="1"><stop offset="0" stop-color="#e8e8ec"/><stop offset="1" stop-color="#fff" stop-opacity="0"/></linearGradient></defs>
<path d="M55 52 C52 60 52 70 56 78 L80 78 C84 70 82 60 78 52 Z" fill="url(#hb)"/>
<circle cx="66" cy="40" r="13.5" fill="url(#hs)"/>
<g stroke="#7482b8" stroke-width="0.9" fill="none">
<path d="M49.7 24 V31 M35.7 31 H59.7 M44 31 V40.2 M39 46.8 V53.2 M39 60 V65.2 M47.7 57.5 H55.5 M67 34.8 V54.3 M57.8 43.5 H50.7"/></g>
<g fill="#fff" fill-opacity="0.85" stroke="#6878b4" stroke-width="1">
<rect x="42.7" y="17.7" width="14" height="6.3"/><rect x="22.2" y="28.2" width="13.5" height="7"/><rect x="59.7" y="28.2" width="15.3" height="6.6"/>
<rect x="32.2" y="40.2" width="13.5" height="6.6"/><rect x="50.7" y="40.2" width="14.1" height="6.6" fill-opacity="0.3"/><rect x="31.5" y="53.2" width="16.2" height="6.8"/>
<rect x="55.5" y="54.3" width="18.7" height="7.2" fill-opacity="0.5"/><rect x="31.5" y="65.2" width="14.2" height="6.8"/></g>
<path d="M74 50 C78 44 86 46 89 52 C92 58 90 66 84 70 C78 72 72 66 72 60 Z" fill="#f4f4f6" stroke="#a8a8b0" stroke-width="0.7"/>
<path d="M76 52 L84 50 M77 56 L87 55 M78 60 L88 60" stroke="#c0c0c8" stroke-width="0.6"/>
<path d="M64.5 43 L76 52.5" stroke="#2a5a98" stroke-width="3" stroke-linecap="round"/>
</svg>
<svg style="left:0;top:0" width="900" height="600">
<g fill="none" stroke="#1c2e45" stroke-width="3.2" stroke-linejoin="miter">
<path d="M581.5 266 L697.8 158.5 V142"/>
<path d="M683 300 V286 L760 212"/>
<path d="M683 321 H764"/>
<path d="M683 350 V360 L760 437"/>
</g>
<g fill="#1c2e45">
<rect x="692.4" y="135.4" width="10" height="9.5"/>
<rect x="756" y="206" width="9" height="9" transform="rotate(45 760.5 210.5)"/>
<rect x="761" y="315.6" width="10" height="10"/>
<rect x="755" y="429" width="9" height="9" transform="rotate(45 759.5 433.5)"/>
</g></svg>
<div class="t" style="left:627.0px;top:209.3px"><span style="font-size:12.00px;color:#444;font-weight:normal;font-style:normal;letter-spacing:2.6px;transform:translate(-50%,-50%) rotate(-43.2deg) scaleX(1.022);">RISIKE<span style="letter-spacing:0">N</span></span></div>
<div class="t" style="left:711.3px;top:241.3px"><span style="font-size:12.60px;color:#444;font-weight:normal;font-style:normal;letter-spacing:0px;transform:translate(-50%,-50%) rotate(-42.4deg) scaleX(0.895);">PERSONEN</span></div>
<div class="t" style="left:723.0px;top:311.4px"><span style="font-size:12.21px;color:#484848;font-weight:normal;font-style:normal;letter-spacing:0px;transform:translate(-50%,-50%) scaleX(0.877);">PRODUKTE</span></div>
<div class="t" style="left:719.2px;top:333.1px"><span style="font-size:12.35px;color:#484848;font-weight:normal;font-style:normal;letter-spacing:0px;transform:translate(-50%,-50%) scaleX(0.866);">SERVICES</span></div>
<div class="t" style="left:724.0px;top:385.5px"><span style="font-size:11.00px;color:#444;font-weight:normal;font-style:normal;letter-spacing:0px;transform:translate(-50%,-50%) rotate(43deg) scaleX(0.976);">MATERIELLE</span></div>
<div class="t" style="left:699.7px;top:390.5px"><span style="font-size:11.00px;color:#444;font-weight:normal;font-style:normal;letter-spacing:0px;transform:translate(-50%,-50%) rotate(43deg) scaleX(1.029);">WERTE</span></div>
<svg style="left:590px;top:228px" width="95" height="72" viewBox="0 0 95 72">
<defs><linearGradient id="fy" x1="0" x2="1"><stop offset="0" stop-color="#e89400"/><stop offset="0.45" stop-color="#fbc21c"/><stop offset="1" stop-color="#e08a00"/></linearGradient>
<linearGradient id="pole" x1="0" x2="1"><stop offset="0" stop-color="#c8c8cc"/><stop offset="0.5" stop-color="#8a8a90"/><stop offset="1" stop-color="#d8d8dc"/></linearGradient>
<radialGradient id="fl" cx="0.5" cy="0.5" r="0.5"><stop offset="0" stop-color="#b8b8c0" stop-opacity="0.8"/><stop offset="1" stop-color="#fff" stop-opacity="0"/></radialGradient></defs>
<ellipse cx="70" cy="52" rx="30" ry="7" fill="url(#fl)"/>
<rect x="47" y="48" width="8" height="24" fill="url(#pole)"/>
<g><ellipse cx="10" cy="31.0" rx="5.6" ry="3.3" fill="none" stroke="#86868e" stroke-width="2.4"/><ellipse cx="10" cy="31.0" rx="5.6" ry="3.3" fill="none" stroke="#e4e4e8" stroke-width="1"/><rect x="13" y="29.2" width="12" height="2.8" rx="1.4" fill="#d8d8dc" stroke="#7c7c84" stroke-width="0.8"/><ellipse cx="28" cy="30.3" rx="5.6" ry="3.3" fill="none" stroke="#86868e" stroke-width="2.4"/><ellipse cx="28" cy="30.3" rx="5.6" ry="3.3" fill="none" stroke="#e4e4e8" stroke-width="1"/><rect x="31" y="28.5" width="12" height="2.8" rx="1.4" fill="#d8d8dc" stroke="#7c7c84" stroke-width="0.8"/><ellipse cx="59" cy="29.0" rx="5.6" ry="3.3" fill="none" stroke="#86868e" stroke-width="2.4"/><ellipse cx="59" cy="29.0" rx="5.6" ry="3.3" fill="none" stroke="#e4e4e8" stroke-width="1"/><rect x="62" y="27.3" width="12" height="2.8" rx="1.4" fill="#d8d8dc" stroke="#7c7c84" stroke-width="0.8"/><ellipse cx="77" cy="28.3" rx="5.6" ry="3.3" fill="none" stroke="#86868e" stroke-width="2.4"/><ellipse cx="77" cy="28.3" rx="5.6" ry="3.3" fill="none" stroke="#e4e4e8" stroke-width="1"/><rect x="80" y="26.6" width="12" height="2.8" rx="1.4" fill="#d8d8dc" stroke="#7c7c84" stroke-width="0.8"/></g>
<g fill="url(#fy)"><ellipse cx="49.2" cy="15.4" rx="6.4" ry="10"/><rect x="42.4" y="25" width="12.8" height="24" rx="4"/>
<rect x="38" y="29" width="22" height="6" rx="3"/><path d="M43 45 L40 64 L46 64 L48 48 Z"/><path d="M54 45 L58 64 L52 64 L50 48 Z"/>
<ellipse cx="41" cy="65" rx="4" ry="2"/><ellipse cx="57.5" cy="65" rx="4" ry="2"/></g>
</svg>
<div style="left:597.4px;top:299px;width:85.5px;height:52px;background:#0e2f4b;"></div>
<div class="t" style="left:640.4px;top:307.5px"><span style="font-size:10.17px;color:#fff;font-weight:bold;font-style:normal;letter-spacing:0px;transform:translate(-50%,-50%) scaleX(0.792);">LEISTUNGS-</span></div>
<div class="t" style="left:640.5px;top:332.2px"><span style="font-size:35.61px;color:#fff;font-weight:bold;font-style:normal;letter-spacing:0px;transform:translate(-50%,-50%) scaleX(0.664);">ZIELE</span></div>
<div class="t" style="left:673.2px;top:400.9px"><span class="tag" style="width:134px;height:13.5px;transform:translate(-50%,-50%) rotate(42.7deg)"></span></div>
<div class="t" style="left:673.2px;top:400.9px"><span style="font-size:12.80px;color:#d8262c;font-weight:normal;font-style:normal;letter-spacing:0px;transform:translate(-50%,-50%) rotate(42.7deg) scaleX(0.755);">SICHERHEITSORIENTIERT!</span></div>
<div class="t" style="left:713.0px;top:33.5px"><span style="font-size:15.99px;color:#8282c0;font-weight:bold;font-style:normal;letter-spacing:0px;transform:translate(-50%,-50%) scaleX(0.524);-webkit-text-stroke:0.3px #8282c0">RISK MANAGEMENT /</span></div>
<div class="t" style="left:716.5px;top:49.5px"><span style="font-size:15.99px;color:#8282c0;font-weight:bold;font-style:normal;letter-spacing:0px;transform:translate(-50%,-50%) scaleX(0.519);-webkit-text-stroke:0.3px #8282c0">RISK ASSESSMENT</span></div>
<div style="left:663px;top:58px;width:95px;height:75px;background:#c8c8e6;box-shadow:5px 5px 4px rgba(30,30,40,0.75)"></div>
<div style="left:664.7px;top:61px;width:11px;height:70.7px;background:#26408f;"></div>
<div class="t" style="left:670.2px;top:96.2px"><span style="font-size:8.30px;color:#fff;font-weight:bold;font-style:normal;letter-spacing:0px;transform:translate(-50%,-50%) rotate(-90deg) scaleX(0.590);">Risk Assessment Qualität</span></div>
<div class="t" style="left:690.9px;top:70.3px"><span style="font-size:7.70px;color:#2a3a8c;font-weight:normal;font-style:normal;letter-spacing:0px;transform:translate(-50%,-50%) scaleX(0.676);-webkit-text-stroke:0.35px #2a3a8c">Erkennen</span></div>
<div class="t" style="left:690.9px;top:79.0px"><span style="font-size:7.85px;color:#2a3a8c;font-weight:normal;font-style:normal;letter-spacing:0px;transform:translate(-50%,-50%) scaleX(0.672);-webkit-text-stroke:0.35px #2a3a8c">Bewerten</span></div>
<div class="t" style="left:695.2px;top:88.1px"><span style="font-size:7.70px;color:#2a3a8c;font-weight:normal;font-style:normal;letter-spacing:0px;transform:translate(-50%,-50%) scaleX(0.670);-webkit-text-stroke:0.35px #2a3a8c">Massnahmen</span></div>
<div style="left:679.6px;top:96.2px;width:1.5px;height:1.6px;background:#2a3a8c;"></div>
<div class="t" style="left:689.6px;top:97.0px"><span style="font-size:6.50px;color:#2a3a8c;font-weight:normal;font-style:normal;letter-spacing:0px;transform:translate(-50%,-50%) scaleX(0.694);-webkit-text-stroke:0.35px #2a3a8c">treffen</span></div>
<div style="left:679.6px;top:102.5px;width:1.5px;height:1.6px;background:#2a3a8c;"></div>
<div class="t" style="left:695.3px;top:103.3px"><span style="font-size:6.50px;color:#2a3a8c;font-weight:normal;font-style:normal;letter-spacing:0px;transform:translate(-50%,-50%) scaleX(0.677);-webkit-text-stroke:0.35px #2a3a8c">überwachen</span></div>
<div style="left:679.6px;top:108.9px;width:1.5px;height:1.6px;background:#2a3a8c;"></div>
<div class="t" style="left:691.0px;top:109.7px"><span style="font-size:6.50px;color:#2a3a8c;font-weight:normal;font-style:normal;letter-spacing:0px;transform:translate(-50%,-50%) scaleX(0.710);-webkit-text-stroke:0.35px #2a3a8c">steuern</span></div>
<div class="t" style="left:718.7px;top:108.0px"><span style="font-size:8.60px;color:#8e8ec8;font-weight:normal;font-style:normal;letter-spacing:0px;transform:translate(-50%,-50%) rotate(-90deg) scaleX(0.527);-webkit-text-stroke:0.2px #8e8ec8">INTEGRIERT</span></div>
<div class="t" style="left:732.7px;top:98.3px"><span style="font-size:8.60px;color:#8e8ec8;font-weight:normal;font-style:normal;letter-spacing:0px;transform:translate(-50%,-50%) rotate(-90deg) scaleX(0.541);-webkit-text-stroke:0.2px #8e8ec8">AUSSAGEKRÄFTIG</span></div>
<div class="t" style="left:748.0px;top:96.0px"><span style="font-size:8.60px;color:#8e8ec8;font-weight:normal;font-style:normal;letter-spacing:0px;transform:translate(-50%,-50%) rotate(-90deg) scaleX(0.527);-webkit-text-stroke:0.2px #8e8ec8">METHODISCH MIT SYSTEM</span></div>
<svg style="left:764px;top:46px" width="76" height="70" viewBox="0 0 76 70">
<defs><radialGradient id="wf" cx="0.35" cy="0.35" r="0.75"><stop offset="0" stop-color="#fff"/><stop offset="1" stop-color="#b0b0b8"/></radialGradient>
<linearGradient id="rc" x1="0" x2="1"><stop offset="0" stop-color="#ee2a2a"/><stop offset="1" stop-color="#c41010"/></linearGradient></defs>
<ellipse cx="26" cy="58" rx="18" ry="4.5" fill="#e4e4e8"/>
<path d="M10 56 C16 52 30 52 40 56 C34 60 18 61 10 56 Z" fill="#f2f2f4" stroke="#c4c4ca" stroke-width="0.6"/>
<rect x="41" y="7" width="2" height="47" fill="#c4c4c8" transform="rotate(3 42 30)"/>
<path d="M27 24 C24 32 22 40 26 46 L20 50 C14 52 8 54 6 56 L12 57 C18 56 26 54 32 52 L36 53 L38 50 L33 46 C31 40 31 34 32 28 Z" fill="#e6e6ea" stroke="#b4b4bc" stroke-width="0.6"/>
<path d="M29 27 L36 18 L41 9 L43 10 L40 20 L33 30 Z" fill="#e0e0e4" stroke="#b4b4bc" stroke-width="0.6"/>
<circle cx="22" cy="16" r="10.5" fill="url(#wf)"/>
<g fill="url(#rc)"><rect x="47" y="3" width="18" height="14"/><rect x="51" y="18" width="19" height="13"/><rect x="47" y="31" width="18" height="13"/><rect x="54" y="44" width="16" height="15"/></g>
<g fill="#fff" font-family="Liberation Sans" font-weight="bold" font-size="11" text-anchor="middle">
<text x="56" y="14.5">R</text><text x="60.5" y="28.5">I</text><text x="56" y="41.5">S</text><text x="62" y="56">K</text></g>
<rect x="54" y="60" width="16" height="8" fill="#f4c8c8" opacity="0.5"/>
</svg>
<div class="t" style="left:827.5px;top:125.5px"><span style="font-size:15.99px;color:#8282c0;font-weight:bold;font-style:normal;letter-spacing:0px;transform:translate(-50%,-50%) scaleX(0.523);-webkit-text-stroke:0.3px #8282c0">BEDEUTUNG</span></div>
<div class="t" style="left:872.5px;top:179.3px"><span style="font-size:17.00px;color:#8282c0;font-weight:bold;font-style:normal;letter-spacing:0px;transform:translate(-50%,-50%) rotate(-90deg) scaleX(0.469);-webkit-text-stroke:0.3px #8282c0">UNTERNEHMENSERFOLG</span></div>
<div style="left:761.7px;top:134.5px;width:93.3px;height:76.5px;background:#c8c8e6;box-shadow:5px 5px 4px rgba(30,30,40,0.75)"></div>
<div style="left:763.3px;top:138.7px;width:10px;height:70.3px;background:#26408f;"></div>
<div class="t" style="left:768.3px;top:173.7px"><span style="font-size:6.30px;color:#fff;font-weight:bold;font-style:normal;letter-spacing:1.2px;transform:translate(-50%,-50%) rotate(-90deg) scaleX(0.874);">Schut<span style="letter-spacing:0">z</span></span></div>
<div class="t" style="left:804.4px;top:146.7px"><span style="font-size:7.70px;color:#2a3a8c;font-weight:normal;font-style:normal;letter-spacing:0px;transform:translate(-50%,-50%) scaleX(0.684);-webkit-text-stroke:0.35px #2a3a8c">Gute Arbeitsweise und</span></div>
<div class="t" style="left:795.6px;top:156.0px"><span style="font-size:7.85px;color:#2a3a8c;font-weight:normal;font-style:normal;letter-spacing:0px;transform:translate(-50%,-50%) scaleX(0.701);-webkit-text-stroke:0.35px #2a3a8c">Arbeitskultur =</span></div>
<div class="t" style="left:802.0px;top:166.0px"><span style="font-size:7.85px;color:#2a3a8c;font-weight:normal;font-style:normal;letter-spacing:0px;transform:translate(-50%,-50%) scaleX(0.675);-webkit-text-stroke:0.35px #2a3a8c">Unternehmenserfolg</span></div>
<svg style="left:798.4px;top:174px" width="19" height="17" viewBox="0 0 19 17"><path d="M9.2 0 L18.3 9.3 L12 9.3 L12 16.7 L6.6 16.7 L6.6 9.3 L0 9.3 Z" fill="#283c96"/></svg>
<div class="t" style="left:811.0px;top:200.8px"><span style="font-size:9.50px;color:#d8262c;font-weight:bold;font-style:italic;letter-spacing:0px;transform:translate(-50%,-50%) scaleX(0.637);">Unser wichtigster Wert</span></div>
<div class="t" style="left:821.1px;top:224.9px"><span style="font-size:17.15px;color:#8282c0;font-weight:bold;font-style:normal;letter-spacing:0px;transform:translate(-50%,-50%) scaleX(0.484);-webkit-text-stroke:0.3px #8282c0">ARBEITSPLATZ-</span></div>
<div class="t" style="left:829.3px;top:241.2px"><span style="font-size:16.72px;color:#8282c0;font-weight:bold;font-style:normal;letter-spacing:0px;transform:translate(-50%,-50%) scaleX(0.484);-webkit-text-stroke:0.3px #8282c0">SICHERHEIT</span></div>
<div class="t" style="left:824.4px;top:272.4px"><span style="font-size:15.70px;color:#8282c0;font-weight:bold;font-style:normal;letter-spacing:0px;transform:translate(-50%,-50%) scaleX(0.528);-webkit-text-stroke:0.3px #8282c0">KUNDENANFORDERUNG</span></div>
<div style="left:771.3px;top:282.7px;width:106.7px;height:97.5px;background:#c8c8e6;box-shadow:5px 5px 4px rgba(30,30,40,0.75)"></div>
<div style="left:773.3px;top:286px;width:10.7px;height:69.3px;background:#26408f;"></div>
<div class="t" style="left:778.6px;top:321.0px"><span style="font-size:6.30px;color:#fff;font-weight:bold;font-style:normal;letter-spacing:1.2px;transform:translate(-50%,-50%) rotate(-90deg) scaleX(0.887);">SICHERHEI<span style="letter-spacing:0">T</span></span></div>
<div class="t" style="left:803.6px;top:294.3px"><span style="font-size:7.85px;color:#2a3a8c;font-weight:normal;font-style:normal;letter-spacing:0px;transform:translate(-50%,-50%) scaleX(0.676);-webkit-text-stroke:0.35px #2a3a8c">Verfügbarkeit</span></div>
<div class="t" style="left:804.9px;top:304.0px"><span style="font-size:7.85px;color:#2a3a8c;font-weight:normal;font-style:normal;letter-spacing:0px;transform:translate(-50%,-50%) scaleX(0.684);-webkit-text-stroke:0.35px #2a3a8c">Vertraulichkeit</span></div>
<div class="t" style="left:798.8px;top:312.6px"><span style="font-size:7.70px;color:#2a3a8c;font-weight:normal;font-style:normal;letter-spacing:0px;transform:translate(-50%,-50%) scaleX(0.721);-webkit-text-stroke:0.35px #2a3a8c">Integrität</span></div>
<div style="left:788.2px;top:321.15px;width:2px;height:1.1px;background:#2a3a8c;"></div>
<div class="t" style="left:801.4px;top:321.6px"><span style="font-size:6.83px;color:#2a3a8c;font-weight:normal;font-style:normal;letter-spacing:0px;transform:translate(-50%,-50%) scaleX(0.665);-webkit-text-stroke:0.35px #2a3a8c">Ursprung</span></div>
<div style="left:788.2px;top:327.15px;width:2px;height:1.1px;background:#2a3a8c;"></div>
<div class="t" style="left:798.5px;top:327.6px"><span style="font-size:6.83px;color:#2a3a8c;font-weight:normal;font-style:normal;letter-spacing:0px;transform:translate(-50%,-50%) scaleX(0.646);-webkit-text-stroke:0.35px #2a3a8c">Gehalt</span></div>
<div style="left:788.2px;top:333.85px;width:2px;height:1.1px;background:#2a3a8c;"></div>
<div class="t" style="left:799.0px;top:334.4px"><span style="font-size:6.83px;color:#2a3a8c;font-weight:normal;font-style:normal;letter-spacing:0px;transform:translate(-50%,-50%) scaleX(0.646);-webkit-text-stroke:0.35px #2a3a8c">Gestalt</span></div>
<svg style="left:0;top:0" width="900" height="600"><g stroke="#283c96" stroke-width="0.8"><path d="M827.3 295 H846 M825.3 304.3 H833 M811.6 313.3 H819"/></g>
<g fill="#1c2e6e"><rect x="845" y="292.8" width="3.3" height="4.4"/><rect x="832.7" y="302.1" width="3.3" height="4.4"/><rect x="818.7" y="311.1" width="3.3" height="4.4"/></g></svg>
<div class="t" style="left:826.7px;top:330.3px"><span style="font-size:8.60px;color:#8e8ec8;font-weight:normal;font-style:normal;letter-spacing:0px;transform:translate(-50%,-50%) rotate(-90deg) scaleX(0.521);-webkit-text-stroke:0.2px #8e8ec8">UNVERÄNDERT</span></div>
<div class="t" style="left:842.0px;top:315.0px"><span style="font-size:8.60px;color:#8e8ec8;font-weight:normal;font-style:normal;letter-spacing:0px;transform:translate(-50%,-50%) rotate(-90deg) scaleX(0.518);-webkit-text-stroke:0.2px #8e8ec8">GARANTIERT</span></div>
<div class="t" style="left:856.0px;top:315.7px"><span style="font-size:8.60px;color:#8e8ec8;font-weight:normal;font-style:normal;letter-spacing:0px;transform:translate(-50%,-50%) rotate(-90deg) scaleX(0.515);-webkit-text-stroke:0.2px #8e8ec8">BEDÜRFNISGERECHT</span></div>
<div style="left:787px;top:356.8px;width:72.7px;height:8.7px;background:#26408f;"></div>
<div class="t" style="left:823.3px;top:361.3px"><span style="font-size:7.20px;color:#fff;font-weight:bold;font-style:normal;letter-spacing:1.2px;transform:translate(-50%,-50%) scaleX(0.776);">LIEFERFÄHIGKEI<span style="letter-spacing:0">T</span></span></div>
<div style="left:773.4px;top:367.7px;width:101.4px;height:10.3px;background:#26408f;"></div>
<div class="t" style="left:824.0px;top:373.0px"><span style="font-size:7.20px;color:#fff;font-weight:bold;font-style:normal;letter-spacing:1.2px;transform:translate(-50%,-50%) scaleX(0.793);">LIEFERZUVERLÄSSIGKEI<span style="letter-spacing:0">T</span></span></div>
<div class="t" style="left:814.6px;top:424.8px"><span style="font-size:16.86px;color:#8282c0;font-weight:bold;font-style:normal;letter-spacing:0px;transform:translate(-50%,-50%) scaleX(0.507);-webkit-text-stroke:0.3px #8282c0">INFRASTRUKTUR</span></div>
<div style="left:759.3px;top:434.6px;width:93.3px;height:76.7px;background:#c8c8e6;box-shadow:5px 5px 4px rgba(30,30,40,0.75)"></div>
<div style="left:761px;top:438px;width:10px;height:70px;background:#26408f;"></div>
<div class="t" style="left:766.0px;top:472.7px"><span style="font-size:6.30px;color:#fff;font-weight:bold;font-style:normal;letter-spacing:1.2px;transform:translate(-50%,-50%) rotate(-90deg) scaleX(0.900);">Schut<span style="letter-spacing:0">z</span></span></div>
<div class="t" style="left:786.2px;top:446.8px"><span style="font-size:7.27px;color:#2a3a8c;font-weight:normal;font-style:normal;letter-spacing:0px;transform:translate(-50%,-50%) scaleX(0.706);-webkit-text-stroke:0.35px #2a3a8c">Gebäude</span></div>
<div class="t" style="left:785.2px;top:456.1px"><span style="font-size:7.41px;color:#2a3a8c;font-weight:normal;font-style:normal;letter-spacing:0px;transform:translate(-50%,-50%) scaleX(0.702);-webkit-text-stroke:0.35px #2a3a8c">Anlagen</span></div>
<div class="t" style="left:787.6px;top:464.9px"><span style="font-size:7.41px;color:#2a3a8c;font-weight:normal;font-style:normal;letter-spacing:0px;transform:translate(-50%,-50%) scaleX(0.685);-webkit-text-stroke:0.35px #2a3a8c">Netzwerke</span></div>
<div class="t" style="left:810.7px;top:474.5px"><span style="font-size:7.27px;color:#2a3a8c;font-weight:normal;font-style:normal;letter-spacing:0px;transform:translate(-50%,-50%) scaleX(0.732);-webkit-text-stroke:0.35px #2a3a8c">Information &amp; Communication</span></div>
<div class="t" style="left:795.3px;top:481.4px"><span style="font-size:7.70px;color:#2a3a8c;font-weight:normal;font-style:normal;letter-spacing:0px;transform:translate(-50%,-50%) scaleX(0.672);-webkit-text-stroke:0.35px #2a3a8c">Technology (ICT)</span></div>
<div class="t" style="left:785.2px;top:490.6px"><span style="font-size:7.70px;color:#2a3a8c;font-weight:normal;font-style:normal;letter-spacing:0px;transform:translate(-50%,-50%) scaleX(0.730);-webkit-text-stroke:0.35px #2a3a8c">Logistik</span></div>
<div class="t" style="left:781.0px;top:501.2px"><span style="font-size:6.00px;color:#2a3a8c;font-weight:bold;font-style:normal;letter-spacing:0px;transform:translate(-50%,-50%) scaleX(0.816);">usw.</span></div>
<div class="t" style="left:820.5px;top:526.7px"><span style="font-size:16.57px;color:#8282c0;font-weight:bold;font-style:normal;letter-spacing:0px;transform:translate(-50%,-50%) scaleX(0.498);-webkit-text-stroke:0.3px #8282c0">BETRIEBLICHE</span></div>
<div class="t" style="left:800.5px;top:542.5px"><span style="font-size:15.99px;color:#8282c0;font-weight:bold;font-style:normal;letter-spacing:0px;transform:translate(-50%,-50%) scaleX(0.529);-webkit-text-stroke:0.3px #8282c0">SICHERHEITSKONZEPTE</span></div>
<div class="t" style="left:724.9px;top:576.0px"><span style="font-size:5.60px;color:#2a3a8a;font-weight:bold;font-style:italic;letter-spacing:0px;transform:translate(-50%,-50%) scaleX(0.836);">©COPYRIGHT - ALL RIGHTS RESERVED BY RM RISK MANAGEMENT AG; SECURITY &amp; RISK CONSULTANTS, WALLISELLEN / ZÜRICH</span></div>
<div class="t" style="left:701.5px;top:585.4px"><span style="font-size:5.60px;color:#2a3a8a;font-weight:bold;font-style:italic;letter-spacing:0px;transform:translate(-50%,-50%) scaleX(0.831);">DIE «RM ART-MAP» IST URHEBERRECHTLICH GESCHÜTZT UND DARF WEDER KOPIERT NOCH IN IRGENDEINER ART UND WEISE BEARBEITET WERDEN.</span></div>
</body></html>
